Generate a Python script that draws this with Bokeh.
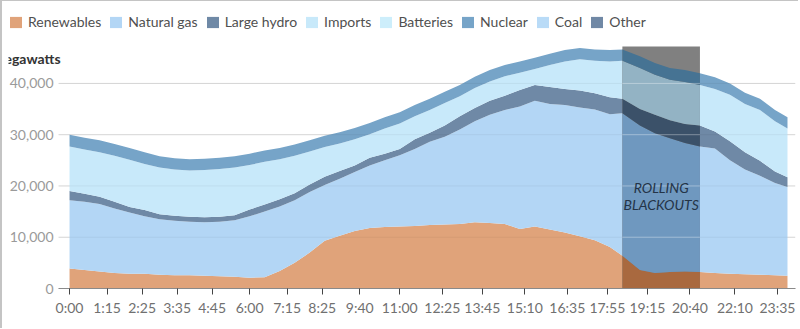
import pandas as pd
from bokeh.plotting import figure
from bokeh.models import (ColumnDataSource, Legend, LegendItem, FixedTicker,
                          NumeralTickFormatter, Label, Range1d)
from bokeh.embed import file_html
from bokeh.resources import INLINE

# ---------------- data (megawatts) ----------------
times = ["0:00", "0:30", "1:00", "1:30", "2:00", "2:30", "3:00", "3:30", "4:00", "4:30",
         "5:00", "5:30", "6:00", "6:30", "7:00", "7:30", "8:00", "8:30", "9:00", "9:30",
         "10:00", "10:30", "11:00", "11:30", "12:00", "12:30", "13:00", "13:30", "14:00", "14:30",
         "15:00", "15:30", "16:00", "16:30", "17:00", "17:30", "18:00", "18:25", "19:00", "19:30",
         "20:00", "20:30", "21:00", "21:30", "22:00", "22:30", "23:00", "23:30", "23:55"]

renewables = [3900, 3600, 3300, 3000, 2900, 2900, 2700, 2600, 2600, 2500, 2400, 2300, 2100, 2200,
              3400, 5000, 7000, 9300, 10300, 11200, 11800, 12000, 12100, 12200, 12400, 12500, 12600, 12900,
              12800, 12600, 11600, 12100, 11500, 10900, 10200, 9400, 8100,
              6400,
              3600, 3000, 3200, 3300, 3200, 3000, 2900, 2800, 2700, 2600,
              2500]
natural_gas = [13300, 13300, 13200, 12600, 11900, 11200, 10800, 10600, 10400, 10400, 10600, 11000, 12000, 12800,
               12600, 12200, 11800, 10900, 11100, 11500, 12200, 13000, 13900, 15000, 16200, 17100, 18400, 19700,
               21100, 22200, 23900, 24500, 24500, 24900, 25100, 25500, 25900,
               27800,
               28200, 27300, 26100, 25100, 24500, 24300, 22100, 20400, 19300, 18000,
               17300]
large_hydro = [1800, 1600, 1400, 1300, 1100, 1200, 1000, 1000, 1000, 1000, 1000, 1000, 1300, 1400,
               1400, 1400, 1500, 1600, 1500, 1300, 1500, 1300, 1200, 1900, 1800, 2200, 2600, 2600,
               2700, 2800, 3200, 3100, 3300, 3100, 3300, 3200, 3300,
               2800,
               3200, 3600, 3500, 3700, 4100, 3300, 3700, 3400, 2900, 2200,
               1900]
imports = [8700, 8600, 8700, 9000, 9200, 9000, 9100, 9000, 9000, 9200, 9300, 9300, 8700, 8300,
           7800, 7300, 6400, 5800, 5400, 5100, 4600, 4900, 5000, 4500, 4400, 4400, 3900, 3900,
           3800, 3800, 3400, 3100, 4300, 5400, 6100, 6300, 7000,
           7400,
           8000, 7800, 7900, 8200, 7900, 8300, 9100, 9400, 9900, 9800,
           9500]
nuclear = [2300, 2300, 2300, 2300, 2300, 2300, 2200, 2200, 2200, 2200, 2200, 2200, 2200, 2200,
           2200, 2200, 2200, 2200, 2200, 2200, 2200, 2200, 2200, 2200, 2200, 2200, 2200, 2200,
           2200, 2200, 2200, 2200, 2200, 2200, 2200, 2200, 2200,
           2200,
           2300, 2300, 2300, 2300, 2300, 2300, 2200, 2200, 2200, 2200,
           2200]

legend_names = ["Renewables", "Natural gas", "Large hydro", "Imports",
                "Batteries", "Nuclear", "Coal", "Other"]
tick_labels = ["0:00", "1:15", "2:25", "3:35", "4:45", "6:00", "7:15", "8:25", "9:40", "11:00",
               "12:25", "13:45", "15:10", "16:35", "17:55", "19:15", "20:40", "22:10", "23:35"]
y_ticks = [0, 10000, 20000, 30000, 40000]
y_title = "Megawatts"
blackout_start, blackout_end = "18:25", "21:00"
blackout_text = "ROLLING\nBLACKOUTS"

# ---------------- styles / layout constants ----------------
colors = {"Renewables": "#e0a37a", "Natural gas": "#b3d6f5", "Large hydro": "#6f89a6",
          "Imports": "#c8e9fa", "Batteries": "#cdeefb", "Nuclear": "#76a4c8",
          "Coal": "#b9dbf7", "Other": "#7088a5"}
dark = {"Renewables": "#a9693f", "Natural gas": "#6f98bf", "Large hydro": "#3b5169",
        "Imports": "#93b3c4", "Nuclear": "#467393"}
FONT = "Lato"
X_VIEW = (-122, 1451)      # visible x window (minutes)
PLOT_X0 = -22              # where axis line and grid lines begin
Y_VIEW = (0, 55980)        # visible y window
BLACKOUT_TOP = 47200


def to_min(s):
    h, m = s.split(":")
    return int(h) * 60 + int(m)


df = pd.DataFrame({"t": [to_min(s) for s in times],
                   "Renewables": renewables, "Natural gas": natural_gas,
                   "Large hydro": large_hydro, "Imports": imports, "Nuclear": nuclear})
stack_order = ["Renewables", "Natural gas", "Large hydro", "Imports", "Nuclear"]
cum = df[stack_order].cumsum(axis=1)
data = {"t": df["t"]}
prev = None
for name in stack_order:
    data[name + "_lo"] = [0] * len(df) if prev is None else cum[prev]
    data[name + "_hi"] = cum[name]
    prev = name
full = pd.DataFrame(data)
b0, b1 = to_min(blackout_start), to_min(blackout_end)
sub = full[(full["t"] >= b0) & (full["t"] <= b1)]

src = ColumnDataSource(full)
src_b = ColumnDataSource(sub)

p = figure(width=798, height=328, output_backend="svg", toolbar_location=None,
           x_range=Range1d(*X_VIEW), y_range=Range1d(*Y_VIEW),
           min_border_left=6, min_border_right=5, min_border_top=0, min_border_bottom=41)
p.styles = {"border-left": "2px solid #c4c4c4", "border-top": "1px solid #c4c4c4"}
p.outline_line_color = None
p.background_fill_color = "white"
p.border_fill_color = "white"
p.xgrid.grid_line_color = None
p.ygrid.grid_line_color = None

n_t = len(y_ticks)
# grid lines beneath the areas
p.segment(x0=[PLOT_X0] * n_t, x1=[X_VIEW[1]] * n_t, y0=y_ticks, y1=y_ticks,
          line_color="#e0e0e0", line_width=1)

# stacked areas
renderers = {}
for name in stack_order:
    renderers[name] = p.varea(x="t", y1=name + "_lo", y2=name + "_hi", source=src,
                              fill_color=colors[name])

# categories with no visible output: zero-height areas on top of the stack
for name in ["Batteries", "Coal", "Other"]:
    renderers[name] = p.varea(x="t", y1="Nuclear_hi", y2="Nuclear_hi", source=src,
                              fill_color=colors[name])

# faint grid lines over the areas outside the blackout window
p.segment(x0=[PLOT_X0] * n_t, x1=[b0] * n_t, y0=y_ticks, y1=y_ticks,
          line_color="black", line_alpha=0.05, line_width=1)
p.segment(x0=[b1] * n_t, x1=[X_VIEW[1]] * n_t, y0=y_ticks, y1=y_ticks,
          line_color="black", line_alpha=0.05, line_width=1)

# blackout window
p.quad(left=[b0], right=[b1], bottom=[0], top=[BLACKOUT_TOP], fill_color="#808080", line_color=None)
for name in stack_order:
    p.varea(x="t", y1=name + "_lo", y2=name + "_hi", source=src_b, fill_color=dark[name])
p.segment(x0=[b0] * n_t, x1=[b1] * n_t, y0=y_ticks, y1=y_ticks,
          line_color="white", line_alpha=0.35, line_width=1)

p.add_layout(Label(x=(b0 + b1) / 2, y=18000, text=blackout_text, text_align="center",
                   text_baseline="middle", text_font=FONT, text_font_size="14px",
                   text_font_style="italic", text_color="#243447", text_line_height=1.0))

legend = Legend(items=[LegendItem(label=n, renderers=[renderers[n]]) for n in legend_names],
                orientation="horizontal", location=(0, 258),
                glyph_width=15, glyph_height=14, label_standoff=5, spacing=7,
                padding=0, margin=0, border_line_color=None, background_fill_alpha=0,
                label_text_font=FONT, label_text_font_size="14px", label_text_color="#505050",
                label_height=14)
p.add_layout(legend, "center")

# y-axis title (its first letter is cut by the left edge, as in the original)
p.add_layout(Label(x=-18, y=44860, text=y_title, text_align="right", text_baseline="middle",
                   text_font=FONT, text_font_size="14px", text_font_style="bold",
                   text_color="#333333"))

# axes
xa = p.xaxis[0]
tick_pos = [to_min(s) for s in tick_labels]
xa.ticker = FixedTicker(ticks=tick_pos)
xa.major_label_overrides = {tp: lab for tp, lab in zip(tick_pos, tick_labels)}
xa.bounds = (PLOT_X0, X_VIEW[1])
xa.axis_line_color = "#8a8a8a"
xa.major_tick_line_color = "#444444"
xa.major_tick_out = 6
xa.major_tick_in = 0
xa.minor_tick_line_color = None
xa.major_label_text_font = FONT
xa.major_label_text_font_size = "14px"
xa.major_label_text_color = "#707070"
xa.major_label_standoff = 4

ya = p.yaxis[0]
ya.ticker = FixedTicker(ticks=y_ticks)
ya.formatter = NumeralTickFormatter(format="0,0")
ya.axis_line_color = None
ya.major_tick_line_color = None
ya.major_tick_out = 0
ya.major_tick_in = 0
ya.minor_tick_line_color = None
ya.minor_tick_out = 0
ya.major_label_text_font = FONT
ya.major_label_text_font_size = "14px"
ya.major_label_text_color = "#9a9a9a"
ya.major_label_standoff = -45

open("out.html", "w").write(file_html(p, INLINE))
